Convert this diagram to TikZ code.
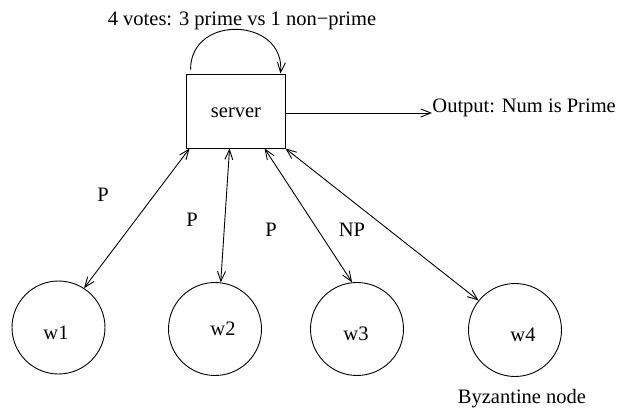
\documentclass[tikz,border=0pt]{standalone}
\usepackage{fontspec}
\setmainfont{Liberation Serif}
\usetikzlibrary{arrows.meta,calc}
\begin{document}
\begin{tikzpicture}[x=1pt,y=-1pt,
  font=\fontsize{20.5}{24}\selectfont,
  line width=0.9pt,
  >={Straight Barb[length=10pt,width=8pt,line width=0.9pt]},
  box/.style={draw,rectangle,minimum width=99pt,minimum height=74pt,inner sep=0pt},
  worker/.style={draw,circle,minimum size=93pt,inner sep=0pt},
  txt/.style={inner sep=0pt}]
\useasboundingbox (0,0) rectangle (619,414);

% server and the four workers
\node[box] (server) at (235.5,111) {};
\node[txt] (stext) at (236,113) {server};
\node[worker] (w1) at (58.5,327.5) {};
\node[worker] (w2) at (215,329) {};
\node[worker] (w3) at (357,329) {};
\node[worker] (w4) at (515,330) {};
\node[txt] (t1) at (56,333) {w1};
\node[txt] (t2) at (223,329) {w2};
\node[txt] (t3) at (356,334) {w3};
\node[txt] (t4) at (523,335) {w4};

% texts
\node[txt,anchor=base] (votes) at (242,26) {4 votes: 3 prime vs 1 non\raisebox{0.1ex}{−}prime};
\node[txt,anchor=base west] (out) at (432,113) {Output: Num is Prime};
\node[txt,anchor=base] (byz) at (522,403.5) {Byzantine node};
\node[txt] (p1) at (103,195) {P};
\node[txt] (p2) at (192,220) {P};
\node[txt] (p3) at (271,230) {P};
\node[txt] (np) at (352,230) {NP};

% attachment points on the server's border
\coordinate (a1) at ($(server.south west)+(4,0)$);
\coordinate (a2) at ($(server.south west)+(44,0)$);
\coordinate (a3) at ($(server.south west)+(79,0)$);
\coordinate (a4) at (server.south east);
\coordinate (l0) at ($(server.north west)+(5,-4)$);
\coordinate (l1) at ($(server.north east)+(-5,0)$);
\coordinate (o1) at (out.base west);

% connectors
\draw[<->] (a1) -- (w1.57);
\draw[<->] (a2) -- (w2.83);
\draw[<->] (a3) -- (w3.96);
\draw[<->] (a4) -- (w4.141);
\draw[->] (server.east |- o1) -- (o1);
\draw[->] (l0) .. controls +(0,-56) and +(5,-56) .. (l1);
\end{tikzpicture}
\end{document}
